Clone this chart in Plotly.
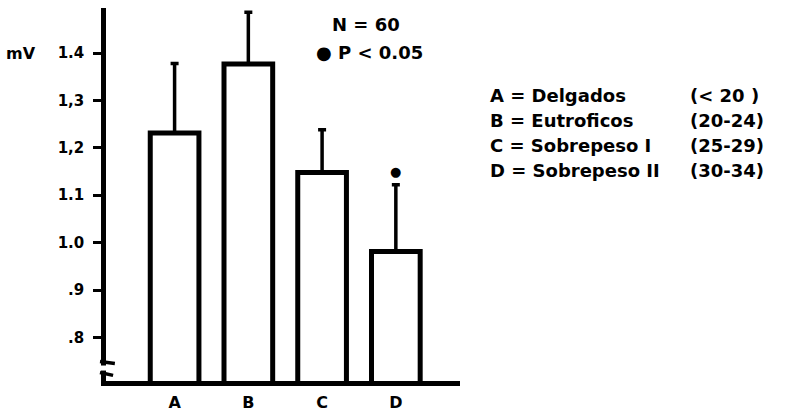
import plotly.graph_objects as go

categories = ["A", "B", "C", "D"]
means = [1.231, 1.377, 1.148, 0.981]
sd_plus = [0.147, 0.109, 0.090, 0.141]
tick_vals = [0.8, 0.9, 1.0, 1.1, 1.2, 1.3, 1.4]
tick_text = [".8", ".9", "1.0", "1.1", "1,2", "1,3", "1.4"]
legend_names = ["A = Delgados", "B = Eutroficos", "C = Sobrepeso I", "D = Sobrepeso II"]
legend_ranges = ["(< 20 )", "(20-24)", "(25-29)", "(30-34)"]
signif = [False, False, False, True]

FONT = "DejaVu Sans"
xpos = list(range(len(categories)))

fig = go.Figure()
fig.add_trace(go.Bar(
    x=xpos, y=means, base=0,
    marker=dict(color="white", line=dict(color="black", width=5)),
    width=0.66,
    error_y=dict(type="data", array=sd_plus, arrayminus=[0] * 4, symmetric=False,
                 color="black", thickness=3.5, width=4),
    showlegend=False,
))

# significance asterisk
for i, s in enumerate(signif):
    if s:
        fig.add_annotation(x=xpos[i], y=means[i] + sd_plus[i], text="●", showarrow=False,
                           yshift=13, font=dict(family=FONT, size=13, color="black"))

fig.add_annotation(xref="paper", yref="paper", x=0.735, y=0.955, text="<b>N = 60</b>",
                   showarrow=False, xanchor="center", yanchor="middle",
                   font=dict(family=FONT, size=18, color="black"))
fig.add_annotation(xref="paper", yref="paper", x=0.745, y=0.88, text="<b>● P < 0.05</b>",
                   showarrow=False, xanchor="center", yanchor="middle",
                   font=dict(family=FONT, size=18, color="black"))

fig.add_annotation(xref="paper", yref="paper", x=-0.24, y=0.878, text="<b>mV</b>",
                   showarrow=False, xanchor="center", yanchor="middle",
                   font=dict(family=FONT, size=16, color="black"))

for k, (nm, rg) in enumerate(zip(legend_names, legend_ranges)):
    ypx = 96 + k * 25
    yp = (381.5 - ypx) / 373.5
    fig.add_annotation(xref="paper", yref="paper", x=(488 - 106) / 354, y=yp, text="<b>" + nm + "</b>",
                       showarrow=False, xanchor="left", yanchor="middle",
                       font=dict(family=FONT, size=18, color="black"))
    fig.add_annotation(xref="paper", yref="paper", x=(688 - 106) / 354, y=yp, text="<b>" + rg + "</b>",
                       showarrow=False, xanchor="left", yanchor="middle",
                       font=dict(family=FONT, size=18, color="black"))

# axis break mark
fig.add_shape(type="rect", xref="paper", yref="paper", x0=-0.03, x1=0.03, y0=0.028, y1=0.0415,
              fillcolor="white", line=dict(width=0), layer="above")
fig.add_shape(type="path", xref="paper", yref="paper",
              path="M -0.017 0.052 L 0.025 0.047",
              line=dict(color="black", width=3.5))
fig.add_shape(type="path", xref="paper", yref="paper",
              path="M -0.017 0.023 L 0.02 0.015",
              line=dict(color="black", width=3.5))

fig.update_layout(
    width=798, height=413,
    margin=dict(l=106, r=338, t=8, b=31.5),
    paper_bgcolor="white", plot_bgcolor="white",
    xaxis=dict(range=[-0.93, 3.87], tickvals=xpos, ticktext=["<b>" + c + "</b>" for c in categories],
               showline=True, linecolor="black", linewidth=4.5, ticks="", showgrid=False,
               zeroline=False, ticklabelstandoff=3, automargin=False,
               tickfont=dict(family=FONT, size=16, color="black")),
    yaxis=dict(range=[0.708, 1.495], tickvals=tick_vals, ticktext=["<b>" + t + "</b>" for t in tick_text],
               showline=True, linecolor="black", linewidth=4.5, ticks="outside", ticklen=8,
               tickwidth=3, tickcolor="black", showgrid=False, zeroline=False,
               ticklabelstandoff=6, automargin=False,
               tickfont=dict(family=FONT, size=15, color="black")),
)

fig.write_html("out.html")
